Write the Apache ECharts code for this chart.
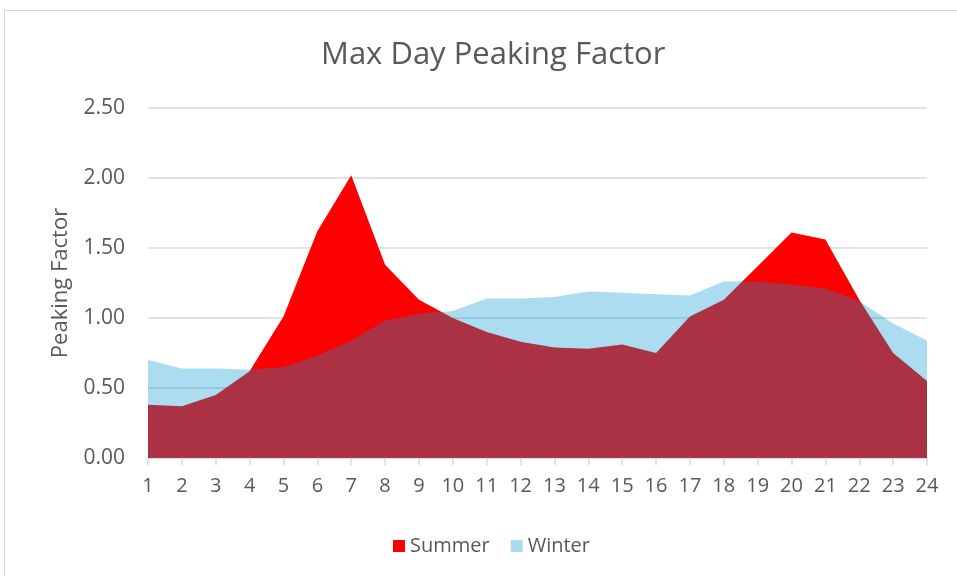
<!DOCTYPE html>
<html>
<head>
<meta charset="utf-8">
<script src="https://cdn.jsdelivr.net/npm/echarts@6/dist/echarts.min.js"></script>
<style>
  html, body { margin: 0; padding: 0; background: #fff; }
  #frame { position: absolute; left: 4px; top: 10px; width: 960px; height: 580px; border: 1px solid #d9d9d9; box-sizing: border-box; }
  #chart { position: absolute; left: 0; top: 0; width: 957px; height: 576px; }
</style>
</head>
<body>
<div id="frame"></div>
<div id="chart"></div>
<script>
// hours of the day, peaking factor per hour
const hours = ['1', '2', '3', '4', '5', '6', '7', '8', '9', '10', '11', '12',
  '13', '14', '15', '16', '17', '18', '19', '20', '21', '22', '23', '24']
const summer = [0.38, 0.37, 0.45, 0.62, 1.01, 1.62, 2.02, 1.38, 1.13, 1.00, 0.90, 0.83,
  0.79, 0.78, 0.81, 0.75, 1.01, 1.13, 1.37, 1.61, 1.56, 1.13, 0.75, 0.55]
const winter = [0.70, 0.64, 0.64, 0.63, 0.65, 0.73, 0.84, 0.98, 1.03, 1.05, 1.14, 1.14,
  1.15, 1.19, 1.18, 1.17, 1.16, 1.26, 1.26, 1.24, 1.21, 1.12, 0.96, 0.84]

const TEXT = '#595959'
const GRID = '#d9d9d9'
const FONT = '"Open Sans", sans-serif'

const chart = echarts.init(document.getElementById('chart'))
chart.setOption({
  animation: false,
  title: {
    text: 'Max Day Peaking Factor',
    left: 316,
    top: 35,
    textStyle: { color: TEXT, fontSize: 31, fontWeight: 'normal', fontFamily: FONT },
  },
  legend: {
    top: 531,
    left: 388,
    itemWidth: 12,
    itemHeight: 12,
    itemGap: 21,
    icon: 'rect',
    textStyle: { color: TEXT, fontSize: 20, fontFamily: FONT },
    data: [
      { name: 'Summer', itemStyle: { color: '#ff0000' } },
      { name: 'Winter', itemStyle: { color: '#aadcee' } },
    ],
  },
  grid: { left: 148, right: 30, top: 108, bottom: 118, containLabel: false },
  xAxis: {
    type: 'category',
    data: hours,
    boundaryGap: false,
    axisLine: { lineStyle: { color: GRID, width: 1.5 } },
    axisTick: { show: true, length: 7, lineStyle: { color: GRID, width: 1.5 } },
    axisLabel: { color: TEXT, fontSize: 20, margin: 18, fontFamily: FONT },
  },
  yAxis: {
    type: 'value',
    min: 0,
    max: 2.5,
    interval: 0.5,
    name: 'Peaking Factor',
    nameLocation: 'middle',
    nameGap: 76,
    nameTextStyle: { color: TEXT, fontSize: 22, fontFamily: FONT },
    axisLine: { show: false },
    axisTick: { show: false },
    splitLine: { lineStyle: { color: GRID, width: 1.5 } },
    axisLabel: {
      color: TEXT, fontSize: 21, margin: 23, fontFamily: FONT,
      formatter: (v) => v.toFixed(2),
    },
  },
  series: [
    {
      name: 'Summer',
      type: 'line',
      data: summer,
      symbol: 'none',
      lineStyle: { width: 0 },
      itemStyle: { color: '#ff0000' },
      areaStyle: { color: '#ff0000', opacity: 1 },
    },
    {
      name: 'Winter',
      type: 'line',
      data: winter,
      symbol: 'none',
      lineStyle: { width: 0 },
      itemStyle: { color: '#aadcee' },
      areaStyle: { color: 'rgb(0,150,205)', opacity: 0.33 },
    },
  ],
})
</script>
</body>
</html>
